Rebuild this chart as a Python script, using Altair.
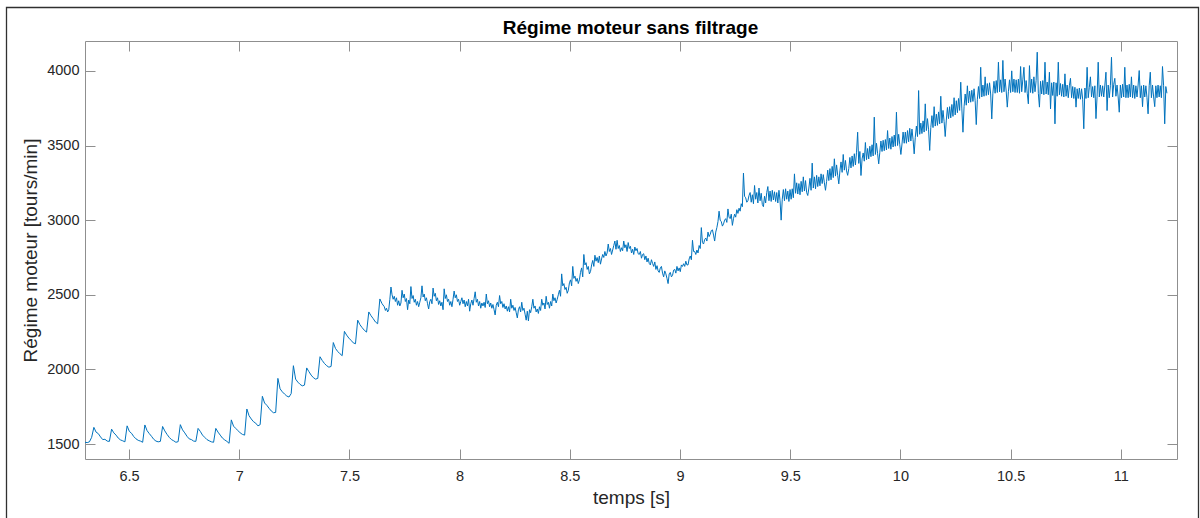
import altair as alt
import pandas as pd

# ---- sampled signal (engine speed, rpm), read from the reference ----
# coarse part: one sample every DT from T0
T0 = 6.30
DT = 0.01006
# fine part (noisier part of the record): one sample every DT2 from T1
T1 = 7.6581
DT2 = 0.00503

seg_630 = [1512, 1510, 1515, 1545, 1612, 1580, 1570, 1548, 1530, 1532,
           1520, 1518, 1600, 1575, 1560, 1540, 1528, 1522, 1515, 1622,
           1585, 1572, 1550, 1535, 1525, 1520, 1512, 1628, 1590, 1570,
           1552, 1532, 1520, 1515, 1518, 1618, 1588, 1565, 1545, 1530,
           1522, 1512, 1516, 1630, 1595, 1575, 1552, 1535, 1530, 1520,
           1518, 1605, 1585, 1560, 1545, 1530, 1522, 1515, 1512, 1605,
           1580, 1560, 1540, 1528, 1518, 1505, 1662, 1620, 1605, 1590]
seg_700 = [1575, 1565, 1560, 1735, 1690, 1668, 1650, 1640, 1622, 1630,
           1820, 1775, 1760, 1740, 1722, 1710, 1712, 1940, 1870, 1850,
           1835, 1822, 1815, 1838, 2025, 1935, 1915, 1900, 1890, 1895,
           2010, 1985, 1962, 1945, 1935, 1940, 2085, 2060, 2040, 2025,
           2015, 2020, 2180, 2140, 2120, 2105, 2092, 2255, 2230, 2210]
seg_750 = [2195, 2178, 2172, 2330, 2300, 2280, 2262, 2250, 2385, 2360,
           2340, 2318, 2306, 2472, 2440]

fine_765 = [2420, 2395, 2410, 2385, 2400, 2470, 2552, 2500, 2470, 2490,
            2455, 2480, 2430, 2460, 2425, 2445, 2530, 2480, 2505, 2455,
            2475, 2400, 2465, 2440, 2555, 2475, 2495, 2450, 2470, 2430,
            2455, 2420, 2450, 2480, 2560, 2485, 2505, 2460, 2480, 2440,
            2405, 2455, 2470, 2440, 2545, 2490, 2510, 2460, 2480, 2435,
            2460, 2425, 2450, 2400, 2540, 2475, 2500, 2455, 2470, 2430,
            2455, 2420, 2470, 2525, 2480, 2500, 2455, 2470, 2430, 2455]
fine_800 = [2480, 2440, 2465, 2420, 2455, 2425, 2470, 2390, 2440, 2465,
            2430, 2475, 2520, 2450, 2470, 2425, 2455, 2410, 2445, 2425,
            2450, 2415, 2505, 2440, 2460, 2420, 2445, 2410, 2435, 2400,
            2365, 2430, 2450, 2420, 2495, 2440, 2455, 2415, 2440, 2405,
            2425, 2390, 2420, 2385, 2470, 2410, 2430, 2395, 2415, 2380,
            2345, 2400, 2420, 2385, 2450, 2395, 2410, 2370, 2330, 2390,
            2325, 2400, 2380, 2420, 2470, 2410, 2425, 2385, 2405, 2375,
            2420, 2395, 2470, 2430, 2445, 2405, 2490, 2435, 2450, 2410,
            2455, 2425, 2505, 2460, 2480, 2445, 2470, 2500, 2530, 2490,
            2640, 2560, 2575, 2535, 2550, 2510, 2530, 2580, 2600, 2560]
fine_850 = [2690, 2610, 2625, 2590, 2610, 2575, 2600, 2650, 2680, 2620,
            2770, 2700, 2715, 2670, 2690, 2640, 2655, 2700, 2730, 2690,
            2765, 2725, 2750, 2715, 2760, 2705, 2740, 2770, 2750, 2790,
            2760, 2780, 2840, 2790, 2810, 2770, 2800, 2830, 2860, 2805,
            2865, 2810, 2830, 2790, 2815, 2795, 2860, 2815, 2835, 2790,
            2850, 2810, 2825, 2780, 2805, 2770, 2820, 2795, 2810, 2775,
            2770, 2790, 2745, 2770, 2775, 2735, 2760, 2720, 2745, 2710,
            2700, 2735, 2710, 2690, 2720, 2670, 2695, 2660, 2650, 2680,
            2690, 2645, 2620, 2660, 2640, 2610, 2575, 2640, 2650, 2620,
            2630, 2665, 2670, 2645, 2690, 2660, 2680, 2655, 2700, 2690]
fine_900 = [2708, 2690, 2725, 2700, 2700, 2740, 2760, 2735, 2865, 2790,
            2790, 2770, 2800, 2780, 2830, 2810, 2950, 2850, 2840, 2870,
            2880, 2860, 2920, 2890, 2905, 2930, 2935, 2900, 2860, 2920,
            2950, 2990, 3060, 3000, 2990, 2960, 2975, 3000, 3010, 2985,
            3075, 3020, 3010, 3040, 2965, 3010, 3040, 3020, 3070, 3045,
            3080, 3060, 3110, 3090, 3315, 3160, 3150, 3120, 3130, 3165]
fine_930 = [3185, 3120, 3170, 3110, 3232, 3140, 3185, 3115, 3215, 3130,
            3180, 3105, 3090, 3160, 3115, 3185, 3225, 3130, 3195, 3125,
            3200, 3135, 3190, 3125, 3185, 3115, 3200, 3130, 3000, 3140,
            3205, 3130, 3210, 3140, 3195, 3125, 3205, 3140, 3210, 3150,
            3310, 3180, 3250, 3175, 3245, 3170, 3260, 3190, 3290, 3195,
            3265, 3185, 3165, 3215, 3280, 3200, 3382, 3215, 3290, 3210,
            3300, 3225, 3290, 3230, 3310, 3245, 3305, 3250, 3200, 3260,
            3335, 3265, 3345, 3270, 3360, 3285, 3411, 3295, 3370, 3300,
            3243, 3330, 3390, 3320, 3440, 3335, 3400, 3330, 3300, 3345,
            3420, 3350, 3430, 3360, 3445, 3370, 3455, 3589, 3380, 3460]
fine_980 = [3299, 3410, 3450, 3395, 3520, 3405, 3480, 3410, 3495, 3425,
            3505, 3430, 3690, 3440, 3515, 3445, 3377, 3455, 3530, 3460,
            3535, 3465, 3540, 3470, 3600, 3480, 3550, 3475, 3560, 3490,
            3570, 3495, 3723, 3500, 3575, 3505, 3440, 3510, 3590, 3515,
            3590, 3515, 3600, 3525, 3615, 3530, 3610, 3540, 3444, 3555,
            3630, 3560, 3868, 3575, 3650, 3580, 3665, 3590, 3779, 3600,
            3680, 3605, 3467, 3620, 3700, 3620, 3760, 3630, 3710, 3635,
            3725, 3645, 3830, 3650, 3735, 3660, 3560, 3670, 3755, 3680,
            3760, 3685, 3775, 3695, 3820, 3705, 3800, 3720, 3815, 3735,
            3924, 3745, 3589, 3760, 3845, 3770, 3900, 3785, 3865, 3790]
fine_1030 = [3870, 3795, 3880, 3800, 3640, 3810, 3895, 3815, 4024, 3825,
             3905, 3830, 3960, 3835, 3915, 3840, 3920, 3845, 3678, 3850,
             3930, 3850, 3935, 3855, 4058, 3860, 3940, 3855, 4070, 3860,
             3945, 3865, 3757, 3860, 3940, 3855, 4000, 3860, 3945, 3855,
             3940, 3855, 3945, 3850, 4029, 3860, 3940, 4024, 3855, 3935,
             3850, 3779, 4035, 3855, 3945, 3850, 3960, 3860, 3935, 4125,
             3850, 3757, 3930, 3845, 3935, 3840, 4058, 3845, 3925, 3840,
             3991, 3745, 3920, 3835, 3925, 3645, 3920, 3830, 4058, 3840,
             3915, 3830, 3910, 3825, 3980, 3830, 3905, 3820, 3900, 3950,
             3820, 3895, 3815, 3890, 3757, 3880, 3815, 3885, 3810, 3880]
fine_1080 = [3810, 3612, 3885, 3815, 4024, 3820, 3890, 3960, 3825, 3895,
             3820, 3900, 3680, 3830, 4058, 3825, 3905, 3830, 3900, 3825,
             3905, 3991, 3734, 3905, 3820, 3900, 4091, 3825, 3910, 3950,
             3830, 3905, 3825, 3723, 3905, 3820, 3910, 3825, 4024, 3820,
             3905, 3820, 3910, 3825, 3960, 3820, 3905, 3815, 3900, 3825,
             3905, 4002, 3820, 3900, 3760, 3905, 3825, 3900, 3820, 3712,
             3900, 3991, 3820, 3905, 3825, 3760, 3900, 3820, 3905, 3825,
             3900, 3820, 4029, 3900, 3645, 3895, 3850]

x_ticks = [6.5, 7, 7.5, 8, 8.5, 9, 9.5, 10, 10.5, 11]
y_ticks = [1500, 2000, 2500, 3000, 3500, 4000]
x_domain = [6.3, 11.255]
y_domain = [1400, 4200]

title_text = "Régime moteur sans filtrage"
x_title = "temps [s]"
y_title = "Régime moteur [tours/min]"

coarse = seg_630 + seg_700 + seg_750
fine = fine_765 + fine_800 + fine_850 + fine_900 + fine_930 + fine_980 + fine_1030 + fine_1080
times = [round(T0 + i * DT, 5) for i in range(len(coarse))] + \
        [round(T1 + k * DT2, 5) for k in range(len(fine))]
df = pd.DataFrame({"t": times, "rpm": coarse + fine})

FONT = "Liberation Sans"
TXT = "#262626"
AX = "#8f8f8f"
W, H = 1092, 418

xscale = alt.Scale(domain=x_domain, nice=False, zero=False)
yscale = alt.Scale(domain=y_domain, nice=False, zero=False)

common_axis = dict(domain=False, grid=False, offset=-10, tickSize=10, tickColor=AX,
                   tickWidth=1, labelFont=FONT, labelColor=TXT, labelFontSize=14.5,
                   titleFont=FONT, titleColor=TXT, titleFontSize=19,
                   titleFontWeight="normal", labelFlush=False)

line = alt.Chart(df).mark_line(color="#0072BD", strokeWidth=1.0, clip=True).encode(
    x=alt.X("t:Q", scale=xscale,
            axis=alt.Axis(orient="bottom", values=x_ticks, format="~g", title=x_title,
                          labelPadding=10, titleX=W / 2, titleY=54, titleAlign="center",
                          titleBaseline="alphabetic", **common_axis)),
    y=alt.Y("rpm:Q", scale=yscale,
            axis=alt.Axis(orient="left", values=y_ticks, format="d", title=y_title,
                          labelPadding=6, titleX=-59, titleY=H / 2, titleAngle=270,
                          titleAlign="center", titleBaseline="alphabetic", **common_axis)),
    order="t:Q",
)

mirror = alt.Chart(df).mark_line(strokeOpacity=0).encode(
    x=alt.X("t:Q", scale=xscale,
            axis=alt.Axis(orient="top", values=x_ticks, labels=False, title=None,
                          domain=False, grid=False, offset=-10, tickSize=10,
                          tickColor=AX, tickWidth=1)),
    y=alt.Y("rpm:Q", scale=yscale,
            axis=alt.Axis(orient="right", values=y_ticks, labels=False, title=None,
                          domain=False, grid=False, offset=-10, tickSize=10,
                          tickColor=AX, tickWidth=1)),
)

one = pd.DataFrame({"k": [0]})
frame = alt.Chart(one).mark_rect(fillOpacity=0, stroke="#303030", strokeWidth=1.3).encode(
    x=alt.value(-78.5), x2=alt.value(1113.5), y=alt.value(-33.5), y2=alt.value(500)
)
title = alt.Chart(one).mark_text(
    text=title_text, font=FONT, fontSize=19, fontWeight="bold", color="#000000",
    align="center", baseline="alphabetic"
).encode(x=alt.value(545.5), y=alt.value(-6.7))

chart = alt.layer(line, mirror, frame, title).resolve_axis(
    x="independent", y="independent"
).properties(
    width=W, height=H,
    autosize=alt.AutoSizeParams(type="none"),
    padding={"left": 85, "top": 41, "right": 23, "bottom": 59},
    background="white",
).configure_view(stroke=AX, strokeWidth=1)

chart.save("out.html", embed_options={"renderer": "svg", "actions": False})
